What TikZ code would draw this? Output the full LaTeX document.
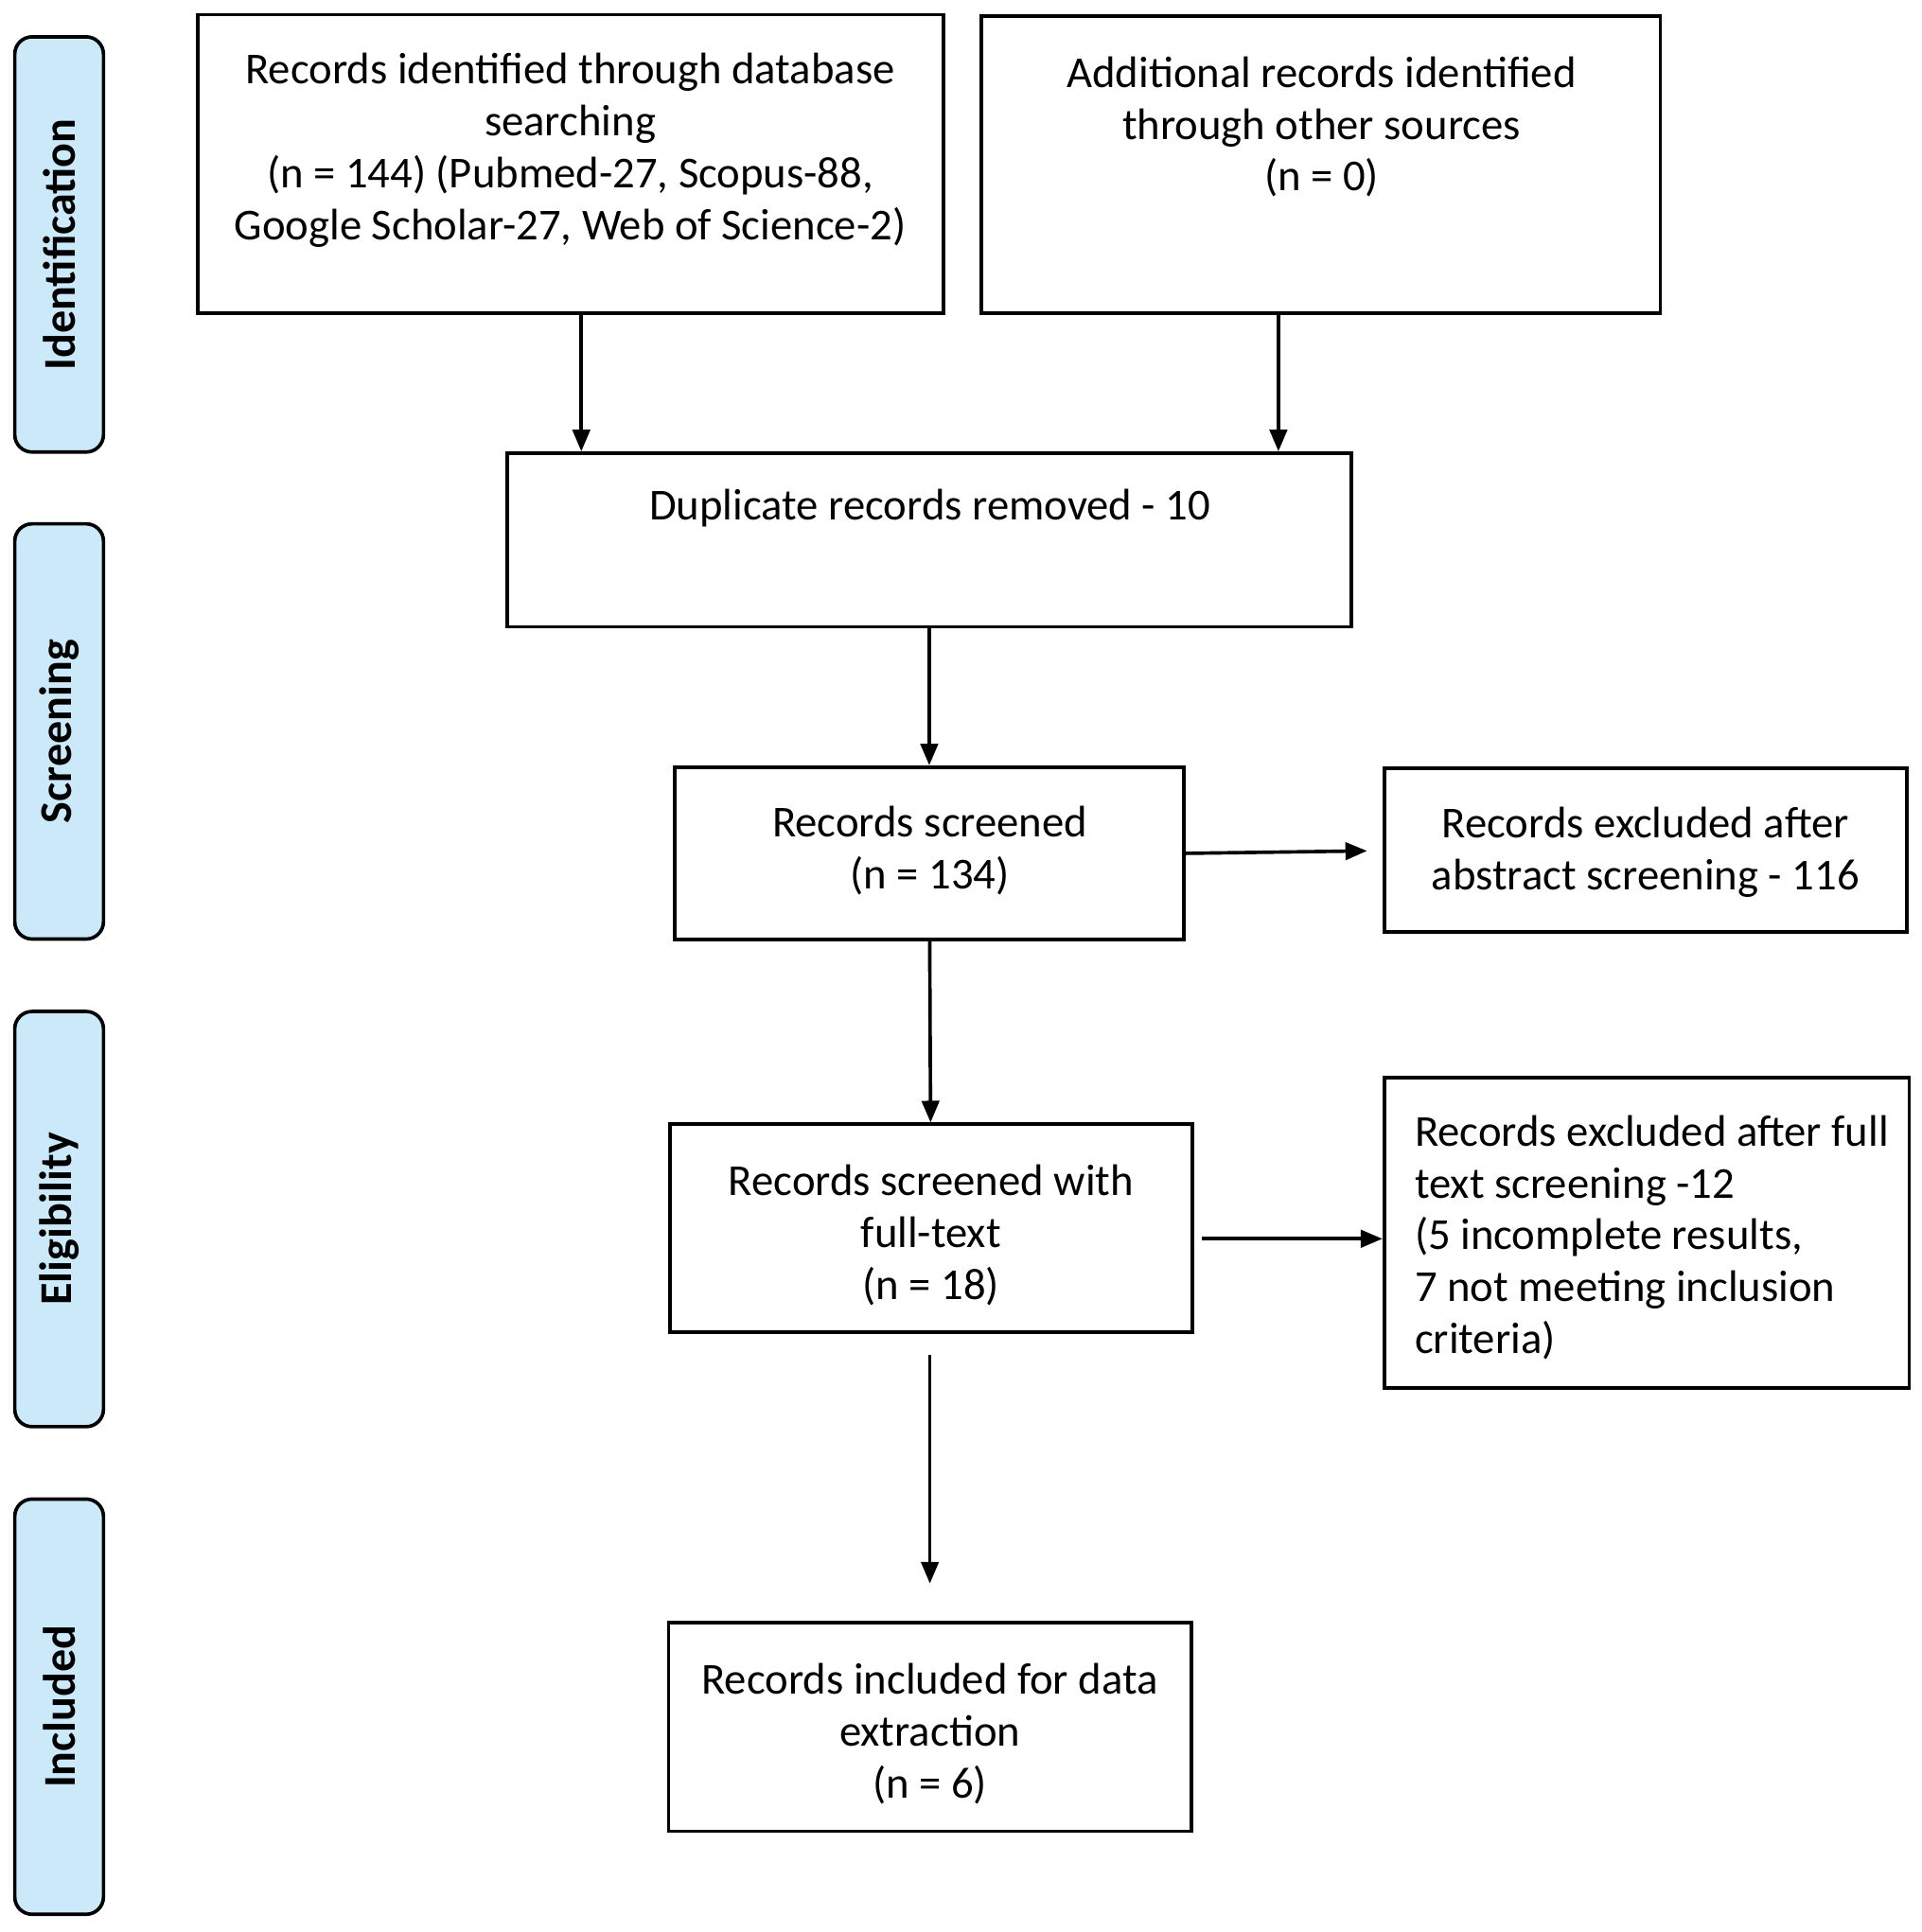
\documentclass[tikz,border=0pt]{standalone}
\usepackage{fontspec}
\setmainfont{Carlito}
\usetikzlibrary{arrows.meta}
\definecolor{tabblue}{HTML}{CCE9FA}

\begin{document}
\begin{tikzpicture}[x=0.01cm,y=-0.01cm,>={Triangle[length=5pt,width=4pt]},
  box/.style={draw,line width=0.8pt,inner sep=0pt},
  txt/.style={align=center,inner sep=0pt,font=\fontsize{10.2}{12}\selectfont},
  tab/.style={draw,line width=0.8pt,fill=tabblue,rounded corners=4pt,inner sep=0pt,minimum width=0.72cm,minimum height=3.37cm},
  tablabel/.style={rotate=90,font=\fontsize{10.5}{12}\selectfont\bfseries}]
  \useasboundingbox (0,0) rectangle (1560,1569);
  % phase tabs
  \node[tab] (tid) at (48,198.5) {};
  \node[tablabel] at (tid) {Identification};
  \node[tab] (tsc) at (48,594) {};
  \node[tablabel] at (tsc) {Screening};
  \node[tab] (tel) at (48,990) {};
  \node[tablabel] at (tel) {Eligibility};
  \node[tab] (tin) at (48,1386) {};
  \node[tablabel] at (tin) {Included};
  % boxes
  \node[box,minimum width=6.05cm,minimum height=2.42cm] (db) at (463.5,133) {};
  \node[txt] at (463,122) {Records identified through database\\searching\\(n = 144) (Pubmed-27, Scopus-88,\\Google Scholar-27, Web of Science-2)};
  \node[box,minimum width=5.51cm,minimum height=2.41cm] (other) at (1072.5,133.5) {};
  \node[txt] at (1073,103) {Additional records identified\\through other sources\\(n = 0)};
  \node[box,minimum width=6.85cm,minimum height=1.41cm] (dup) at (754.5,438.5) {};
  \node[txt] at (755,413) {Duplicate records removed - 10};
  \node[box,minimum width=4.13cm,minimum height=1.40cm] (scr) at (754.5,693) {};
  \node[txt] at (755,691) {Records screened\\(n = 134)};
  \node[box,minimum width=4.24cm,minimum height=1.33cm] (ex1) at (1336,690.5) {};
  \node[txt] at (1336,692) {Records excluded after\\abstract screening - 116};
  \node[box,minimum width=4.24cm,minimum height=1.69cm] (full) at (756,997.5) {};
  \node[txt] at (756,1003) {Records screened with\\full-text\\(n = 18)};
  \node[box,minimum width=4.26cm,minimum height=2.52cm] (ex2) at (1337,1001) {};
  \node[txt,align=left,anchor=west] at (1148,1005) {Records excluded after full\\text screening -12\\(5 incomplete results,\\7 not meeting inclusion\\criteria)};
  \node[box,minimum width=4.24cm,minimum height=1.69cm] (incl) at (755,1402.5) {};
  \node[txt] at (755,1408) {Records included for data\\extraction\\(n = 6)};
  % arrows
  \draw[->,line width=0.8pt] (db.south -| 472,0) -- (dup.north -| 472,0);
  \draw[->,line width=0.8pt] (other.south -| 1038,0) -- (dup.north -| 1038,0);
  \draw[->,line width=0.8pt] (dup) -- (scr);
  \draw[->,line width=0.8pt] (scr) -- (full);
  \draw[->,line width=0.8pt] (scr.east) -- (1110,691);
  \draw[->,line width=0.8pt] (976,1006) -- (ex2.west |- 0,1006);
  \draw[->,line width=0.8pt] (755,1100) -- (755,1286);
\end{tikzpicture}
\end{document}
